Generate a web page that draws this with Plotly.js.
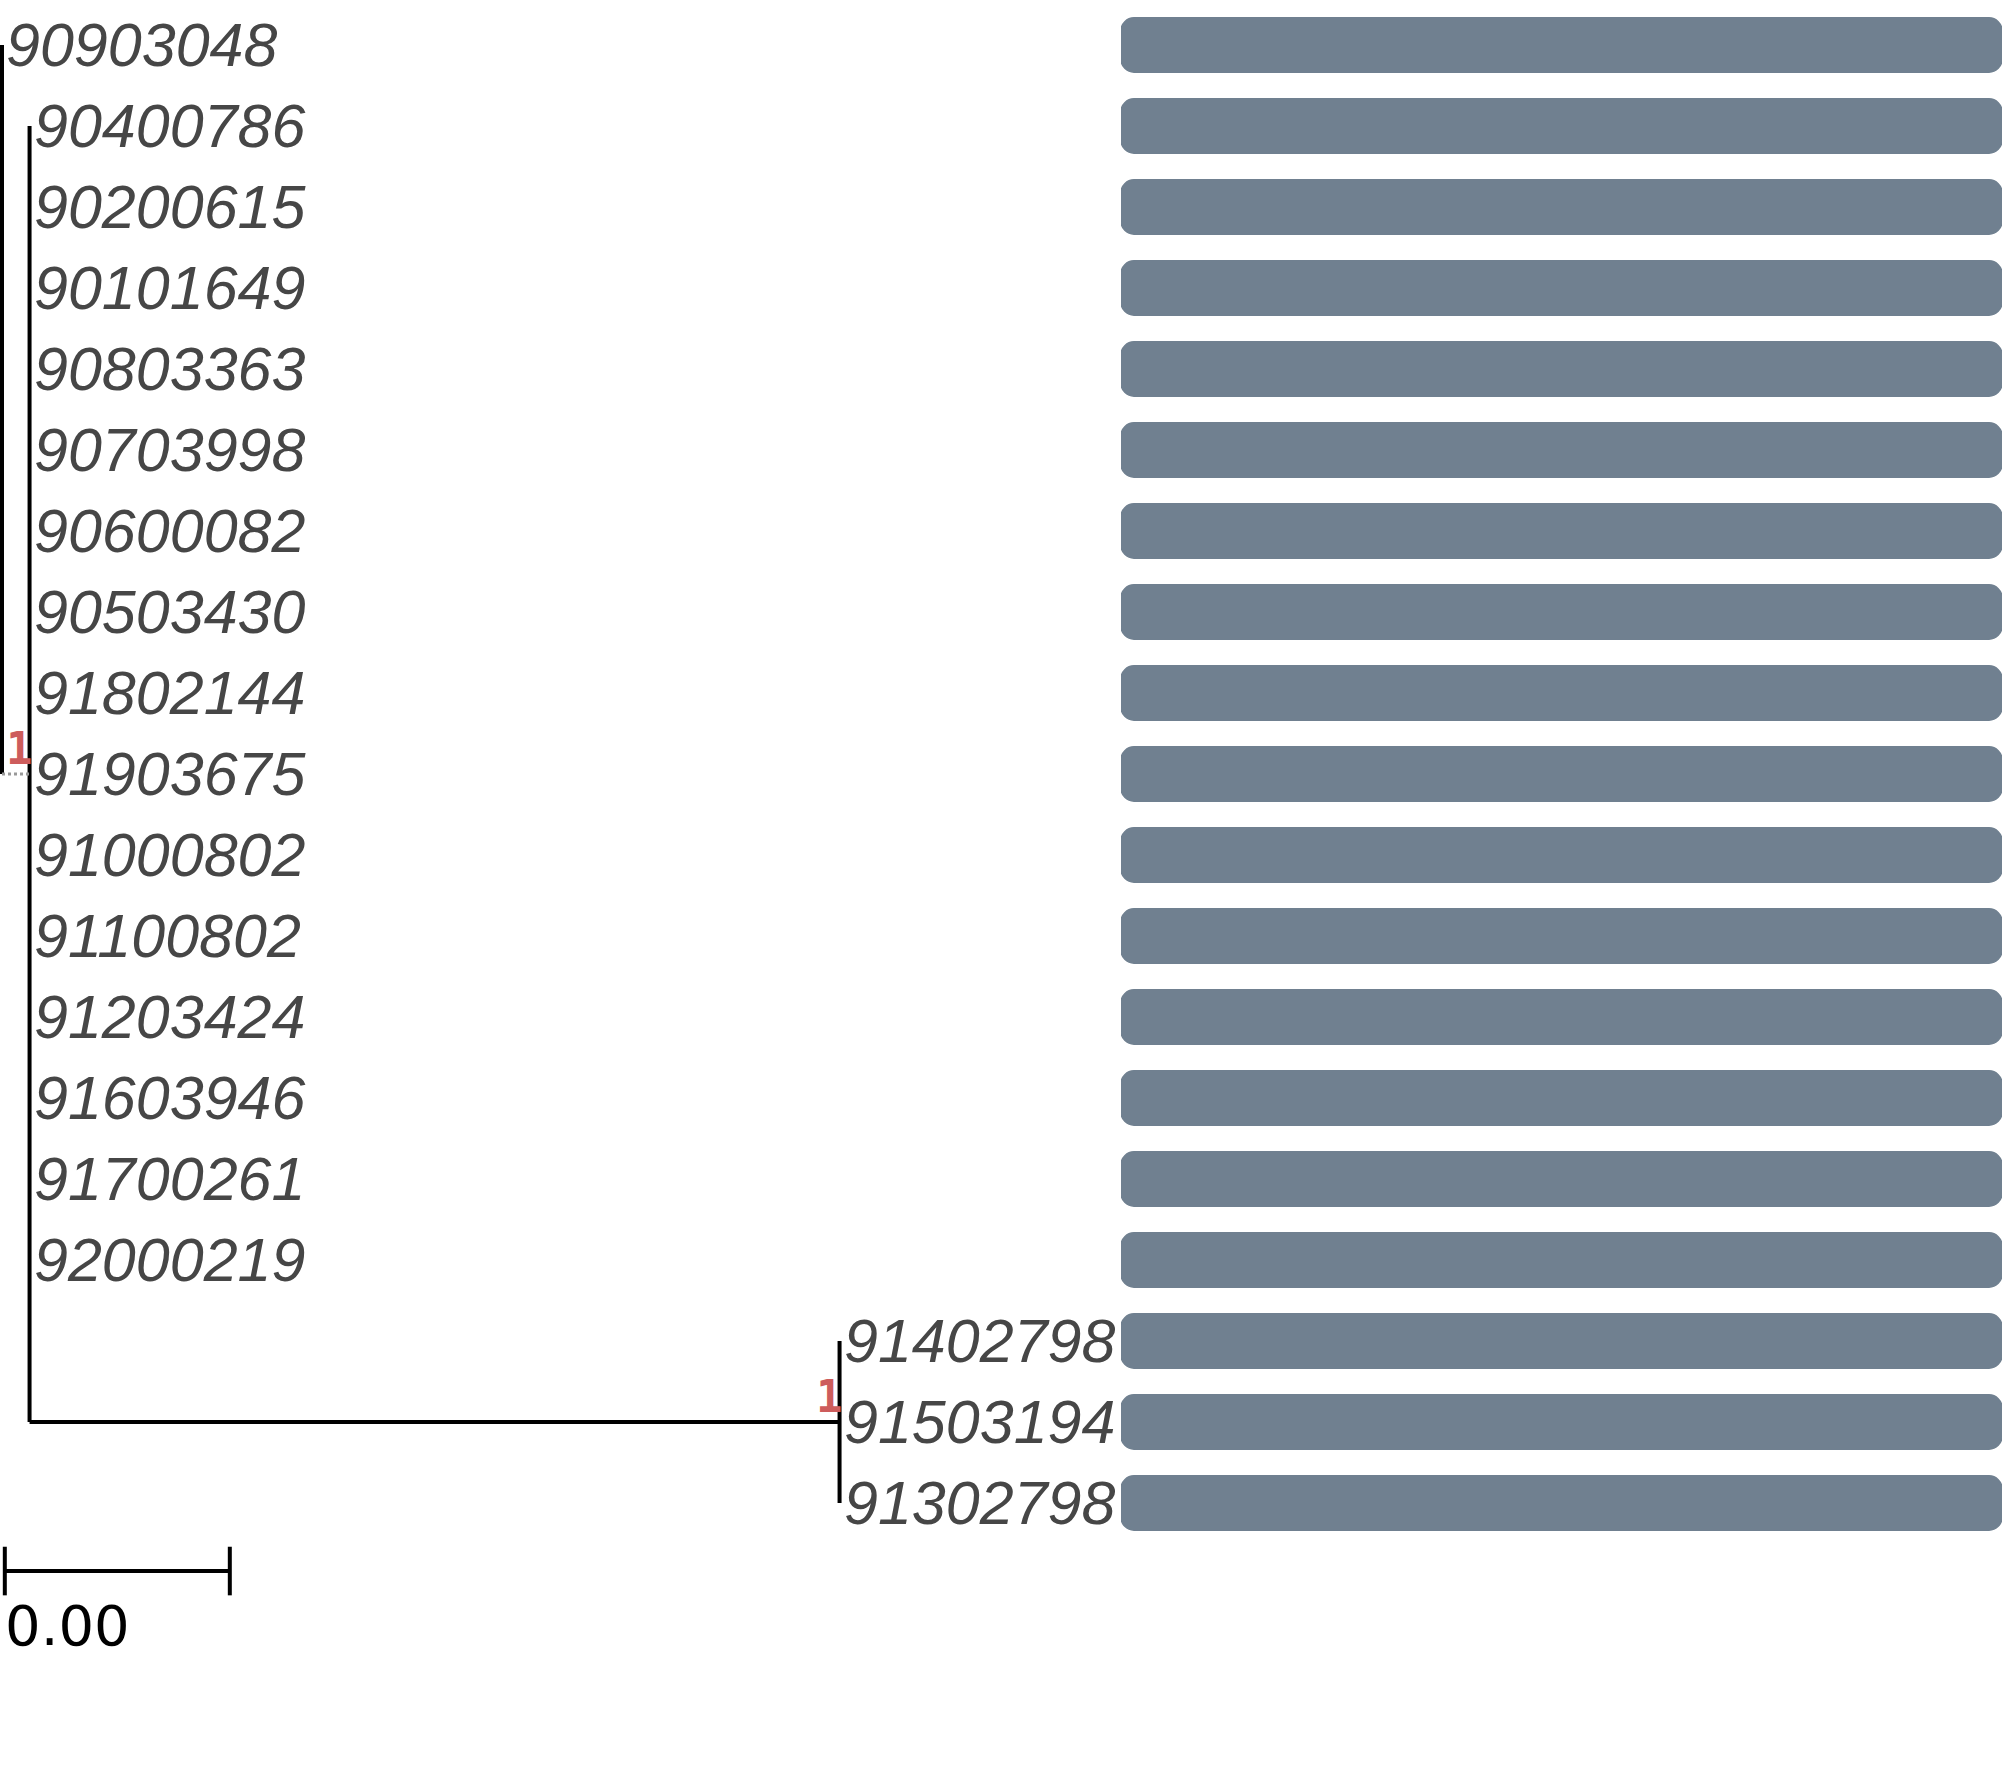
<!DOCTYPE html>
<html>
<head>
<meta charset="utf-8">
<script src="https://cdn.plot.ly/plotly-3.0.1.min.js"></script>
<style>html,body{margin:0;padding:0;background:#fff;}#chart{width:2007px;height:1773px;}</style>
</head>
<body>
<div id="chart"></div>
<script>
// ---- data ----
const tipLabels = ["90903048","90400786","90200615","90101649","90803363","90703998","90600082","90503430","91802144","91903675","91000802","91100802","91203424","91603946","91700261","92000219","91402798","91503194","91302798"];
const tipParents = ["root","A","A","A","A","A","A","A","A","A","A","A","A","A","A","A","B","B","B"];
const tipBranchLengths = [0,0,0,0,0,0,0,0,0,0,0,0,0,0,0,0,0,0,0];
const nodeNames = ["root","A","B"];
const nodeParents = [null,"root","A"];
const nodeBranchLengths = [0, 0.00049, 0.0144];
const nodeSupport = ["", "1", "1"];
const barValues = [1,1,1,1,1,1,1,1,1,1,1,1,1,1,1,1,1,1,1];
const scaleBarLength = 0.004;
const scaleBarLabel = "0.00";

// ---- tree layout ----
const nodeX = {}, nodeY = {};
nodeNames.forEach((n,i)=>{
  const p = nodeParents[i];
  nodeX[n] = (p ? nodeX[p] : 0) + nodeBranchLengths[i];
});
const tipX = tipLabels.map((t,i)=> nodeX[tipParents[i]] + tipBranchLengths[i]);
const tipY = tipLabels.map((t,i)=> i);
const childYs = {};
nodeNames.forEach(n=>childYs[n]=[]);
tipParents.forEach((p,i)=>childYs[p].push(tipY[i]));
for (let i=nodeNames.length-1;i>=0;i--){
  const n = nodeNames[i];
  const ys = childYs[n];
  nodeY[n] = (Math.min(...ys)+Math.max(...ys))/2;
  if (nodeParents[i]) childYs[nodeParents[i]].push(nodeY[n]);
}

const lx = [], ly = [];
function seg(x0,y0,x1,y1){ lx.push(x0,x1,null); ly.push(y0,y1,null); }
nodeNames.forEach(n=>{ const ys = childYs[n]; seg(nodeX[n], Math.min(...ys), nodeX[n], Math.max(...ys)); });
tipLabels.forEach((t,i)=>{ const p = tipParents[i]; if (tipX[i]>nodeX[p]) seg(nodeX[p], tipY[i], tipX[i], tipY[i]); });
const dx = [], dy = [];
nodeNames.forEach((n,i)=>{
  const p = nodeParents[i]; if (!p) return;
  if (nodeBranchLengths[i] < 0.001) { dx.push(nodeX[p], nodeX[n], null); dy.push(nodeY[n], nodeY[n], null); }
  else seg(nodeX[p], nodeY[n], nodeX[n], nodeY[n]);
});

// ---- pixel mapping ----
const W = 2007, H = 1773;
const k = 56250;            // px per unit
const x0px = 2;
const rowPx = 81, row0px = 45;
const xRange = [-x0px/k, (W-x0px)/k];
const yTop = -row0px/rowPx, yBottom = yTop + H/rowPx;

const barMarker = {color:'#708090', cornerradius:13, line:{width:1.5, color:'#708090'}};
const traces = [
  {type:'scatter', mode:'lines', x:lx, y:ly, xaxis:'x', yaxis:'y', line:{color:'#000', width:4}, hoverinfo:'skip', showlegend:false},
  {type:'scatter', mode:'lines', x:dx, y:dy, xaxis:'x', yaxis:'y', line:{color:'#999', width:3, dash:'dot'}, hoverinfo:'skip', showlegend:false},
  // each bar drawn as two halves so both ends get rounded corners
  {type:'bar', orientation:'h', x:barValues.map(v=>v/2), y:tipY, xaxis:'x2', yaxis:'y', width:0.67,
   marker:barMarker, hoverinfo:'skip', showlegend:false},
  {type:'bar', orientation:'h', x:barValues.map(v=>-v/2), y:tipY, xaxis:'x2', yaxis:'y', width:0.67,
   marker:barMarker, hoverinfo:'skip', showlegend:false}
];

const annotations = [];
tipLabels.forEach((t,i)=>{
  annotations.push({x:tipX[i], y:tipY[i], xref:'x', yref:'y', text:t, showarrow:false,
    xanchor:'left', yanchor:'middle', xshift:2, yshift:0,
    font:{family:'Liberation Sans, Arial, sans-serif', size:61, style:'italic', color:'#464646'}});
});
nodeNames.forEach((n,i)=>{
  if (!nodeSupport[i]) return;
  annotations.push({x:nodeX[n], y:nodeY[n], xref:'x', yref:'y', text:nodeSupport[i], showarrow:false,
    xanchor:'right', yanchor:'bottom', xshift:5, yshift:-2,
    font:{family:'"DejaVu Sans Mono", monospace', size:44, weight:'bold', color:'#CD5C5C'}});
});
const scaleStart = 0.00005;
const scaleY = 18.84;
annotations.push({x:scaleStart, y:scaleY, xref:'x', yref:'y', text:scaleBarLabel, showarrow:false,
  xanchor:'left', yanchor:'top', xshift:-2, yshift:-20,
  font:{family:'"DejaVu Sans", sans-serif', size:56, color:'#000'}});

const shapes = [
  {type:'line', xref:'x', yref:'y', x0:scaleStart, x1:scaleStart+scaleBarLength, y0:scaleY, y1:scaleY, line:{color:'#000', width:4}},
  {type:'line', xref:'x', yref:'y', x0:scaleStart, x1:scaleStart, y0:scaleY-0.3, y1:scaleY+0.3, line:{color:'#000', width:4}},
  {type:'line', xref:'x', yref:'y', x0:scaleStart+scaleBarLength, x1:scaleStart+scaleBarLength, y0:scaleY-0.3, y1:scaleY+0.3, line:{color:'#000', width:4}}
];

const ax = {visible:false, showgrid:false, zeroline:false, showticklabels:false, fixedrange:true};
const layout = {
  width:W, height:H, margin:{l:0,r:0,t:0,b:0,pad:0},
  paper_bgcolor:'#fff', plot_bgcolor:'#fff', showlegend:false,
  barmode:'relative',
  xaxis:Object.assign({}, ax, {domain:[0,1], range:xRange}),
  xaxis2:Object.assign({}, ax, {domain:[1121/W, 2002/W], range:[-0.5,0.5], anchor:'y'}),
  yaxis:Object.assign({}, ax, {range:[yBottom, yTop]}),
  annotations:annotations, shapes:shapes
};
Plotly.newPlot('chart', traces, layout, {staticPlot:true, displayModeBar:false});
</script>
</body>
</html>
